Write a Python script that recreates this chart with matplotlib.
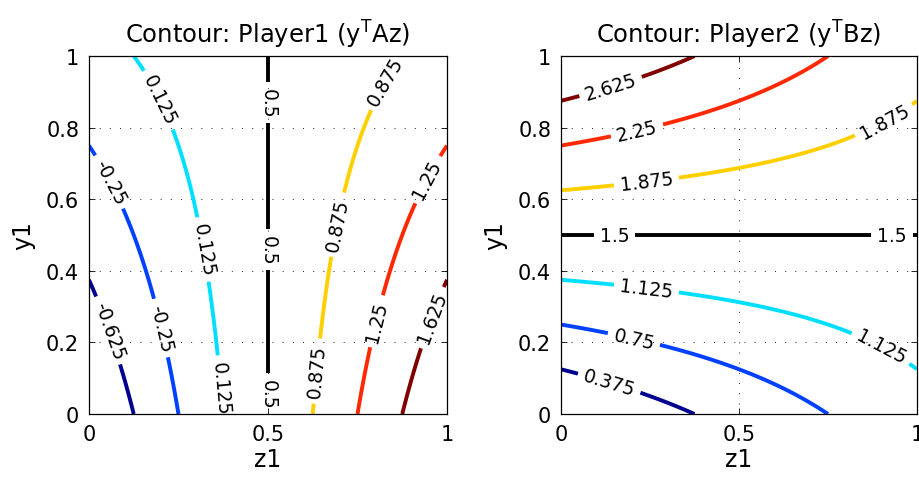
import numpy as np
import matplotlib
matplotlib.use("Agg")
import matplotlib.pyplot as plt

# payoff matrices: rows = strategies of y, cols = strategies of z
A = np.array([[1.0, 0.0],
              [2.0, -1.0]])
B = np.array([[2.0, 3.0],
              [1.0, 0.0]])

levels_A = [-0.625, -0.25, 0.125, 0.5, 0.875, 1.25, 1.625]
levels_B = [0.375, 0.75, 1.125, 1.5, 1.875, 2.25, 2.625]

x_ticks = [0, 0.5, 1]
y_ticks = [0, 0.2, 0.4, 0.6, 0.8, 1]

# approximate spots (z1, y1) of the inline labels
label_pos_A = [(0.2, 0.88), (0.32, 0.46), (0.368, 0.073),
               (0.06, 0.65), (0.2, 0.24), (0.055, 0.234),
               (0.5, 0.87), (0.5, 0.46), (0.5, 0.056),
               (0.83, 0.93), (0.69, 0.53), (0.636, 0.12),
               (0.944, 0.656), (0.8, 0.26), (0.957, 0.27)]
label_pos_B = [(0.14, 0.913), (0.214, 0.79), (0.24, 0.649), (0.908, 0.818),
               (0.15, 0.5), (0.93, 0.5), (0.24, 0.351), (0.9, 0.1875),
               (0.205, 0.21), (0.136, 0.088)]

LEVEL_COLORS = ['#00008F', '#0040FF', '#00DFFF', 'k', '#FFCF00', '#FF2800', '#800000']

plt.rcParams['font.family'] = ['DejaVu Sans']
plt.rcParams['mathtext.default'] = 'regular'


def payoff(M, y1, z1):
    Y = np.stack([y1, 1 - y1])
    Z = np.stack([z1, 1 - z1])
    return np.einsum('i...,ij,j...->...', Y, M, Z)


grid = np.linspace(0, 1, 201)[:-1] + 0.0025
grid = np.concatenate([[0.0], grid, [1.0]])
zz, yy = np.meshgrid(grid, grid)

fig = plt.figure(figsize=(9.19, 4.85), dpi=100)
ax1 = fig.add_axes([0.0968, 0.1443, 0.3896, 0.738])
ax2 = fig.add_axes([0.6104, 0.1443, 0.3874, 0.738])

panels = [(ax1, A, levels_A, label_pos_A, 'Contour: Player1 (y$^T$Az)'),
          (ax2, B, levels_B, label_pos_B, 'Contour: Player2 (y$^T$Bz)')]

for ax, M, levels, label_pos, title in panels:
    F = payoff(M, yy, zz)
    cs = ax.contour(zz, yy, F, levels=levels, colors=LEVEL_COLORS, linewidths=2.8)
    ax.clabel(cs, levels, manual=label_pos, inline=True, inline_spacing=6,
              fontsize=13.5, colors='k', fmt=lambda v: f'{v:g}')
    ax.set_xlim(0, 1)
    ax.set_ylim(0, 1)
    ax.set_xticks(x_ticks)
    ax.set_xticklabels(['0', '0.5', '1'])
    ax.set_yticks(y_ticks)
    ax.set_yticklabels(['0', '0.2', '0.4', '0.6', '0.8', '1'])
    ax.grid(True, color='k', linestyle=(0, (1.2, 11)), linewidth=0.6)
    ax.tick_params(direction='in', length=4, width=0.6, labelsize=15,
                   top=True, right=True, pad=7)
    for sp in ax.spines.values():
        sp.set_linewidth(0.9)
    ax.set_xlabel('z1', fontsize=17, labelpad=2)
    ax.set_ylabel('y1', fontsize=17, labelpad=8)
    ax.set_title(title, fontsize=17.5, pad=10)

fig.savefig('out.png', dpi=100)
